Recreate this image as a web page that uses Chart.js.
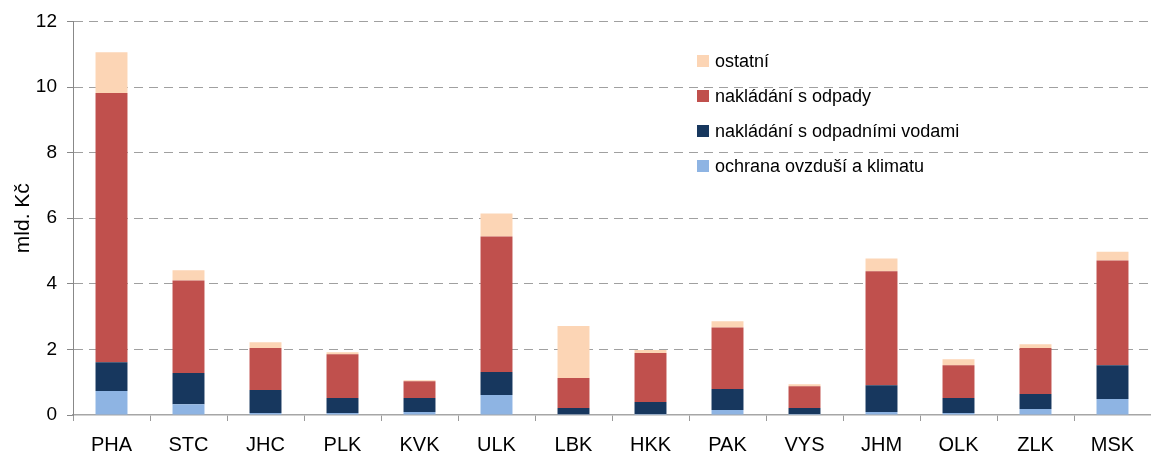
<!DOCTYPE html>
<html>
<head>
<meta charset="utf-8">
<script src="https://cdn.jsdelivr.net/npm/chart.js@4/dist/chart.umd.min.js"></script>
<style>
  html, body { margin: 0; padding: 0; background: #fff; }
  #wrap { width: 1151px; height: 455px; }
</style>
</head>
<body>
<div id="wrap"><canvas id="chart" width="1151" height="455"></canvas></div>
<script>
// Regions (kraje) and spending by category, mld. Kč
const regions = ["PHA", "STC", "JHC", "PLK", "KVK", "ULK", "LBK", "HKK", "PAK", "VYS", "JHM", "OLK", "ZLK", "MSK"]

const airClimate = [0.73, 0.33, 0.06, 0.06, 0.09, 0.61, 0.02, 0.03, 0.15, 0.03, 0.09, 0.06, 0.18, 0.49]
const wasteWater = [0.88, 0.95, 0.70, 0.46, 0.43, 0.70, 0.19, 0.37, 0.64, 0.18, 0.82, 0.46, 0.46, 1.03]
const waste = [8.21, 2.82, 1.28, 1.33, 0.51, 4.13, 0.92, 1.49, 1.88, 0.67, 3.47, 1.00, 1.40, 3.19]
const other = [1.24, 0.31, 0.18, 0.06, 0.03, 0.70, 1.58, 0.09, 0.19, 0.06, 0.39, 0.18, 0.12, 0.27]

const yTicks = [0, 2, 4, 6, 8, 10, 12]

const FONT = "'Liberation Sans', Arial, sans-serif"

// Legend drawn inside the plot, top item = last dataset
const insideLegend = {
  id: "insideLegend",
  afterDatasetsDraw(chart) {
    const ctx = chart.ctx
    const ds = chart.data.datasets.slice().reverse()
    ctx.save()
    ctx.font = "18px " + FONT
    ctx.textBaseline = "middle"
    ds.forEach((d, i) => {
      const y = 61 + i * 35
      ctx.fillStyle = d.backgroundColor
      ctx.fillRect(697, y - 6, 12, 12)
      ctx.fillStyle = "#000"
      ctx.fillText(d.label, 715, y + 1)
    })
    ctx.restore()
  }
}

new Chart(document.getElementById("chart"), {
  type: "bar",
  data: {
    labels: regions,
    datasets: [
      { label: "ochrana ovzduší a klimatu", data: airClimate, backgroundColor: "#8EB4E3" },
      { label: "nakládání s odpadními vodami", data: wasteWater, backgroundColor: "#17375E" },
      { label: "nakládání s odpady", data: waste, backgroundColor: "#C0504D" },
      { label: "ostatní", data: other, backgroundColor: "#FCD5B5" }
    ]
  },
  options: {
    responsive: false,
    animation: false,
    layout: { padding: { top: 20, left: 0, right: 0, bottom: 0 } },
    datasets: {
      bar: { barPercentage: 0.415, categoryPercentage: 1, borderWidth: 0 }
    },
    plugins: {
      legend: { display: false },
      tooltip: { enabled: false }
    },
    scales: {
      x: {
        stacked: true,
        afterFit: (s) => { s.height = 40 },
        grid: {
          offset: true,
          drawOnChartArea: false,
          drawTicks: true,
          tickLength: 6,
          color: "#999"
        },
        border: { display: true, color: "#a6a6a6", width: 1.5 },
        ticks: {
          color: "#000",
          padding: 12,
          maxRotation: 0,
          font: { family: FONT, size: 20 }
        }
      },
      y: {
        stacked: true,
        min: 0,
        max: 12,
        afterFit: (s) => { s.width = 73 },
        afterBuildTicks: (s) => { s.ticks = yTicks.map(v => ({ value: v })) },
        grid: {
          color: (c) => c.tick && c.tick.value === 0 ? "rgba(0,0,0,0)" : "#a0a0a0",
          tickColor: "#888",
          tickLength: 6,
          tickBorderDash: []
        },
        border: { display: true, color: "#888", width: 1, dash: [9, 6] },
        ticks: {
          color: "#000",
          padding: 10,
          font: { family: FONT, size: 19 }
        },
        title: {
          display: true,
          text: "mld. Kč",
          color: "#000",
          padding: { top: 11, bottom: 0 },
          font: { family: FONT, size: 21 }
        }
      }
    }
  },
  plugins: [insideLegend]
})
</script>
</body>
</html>
